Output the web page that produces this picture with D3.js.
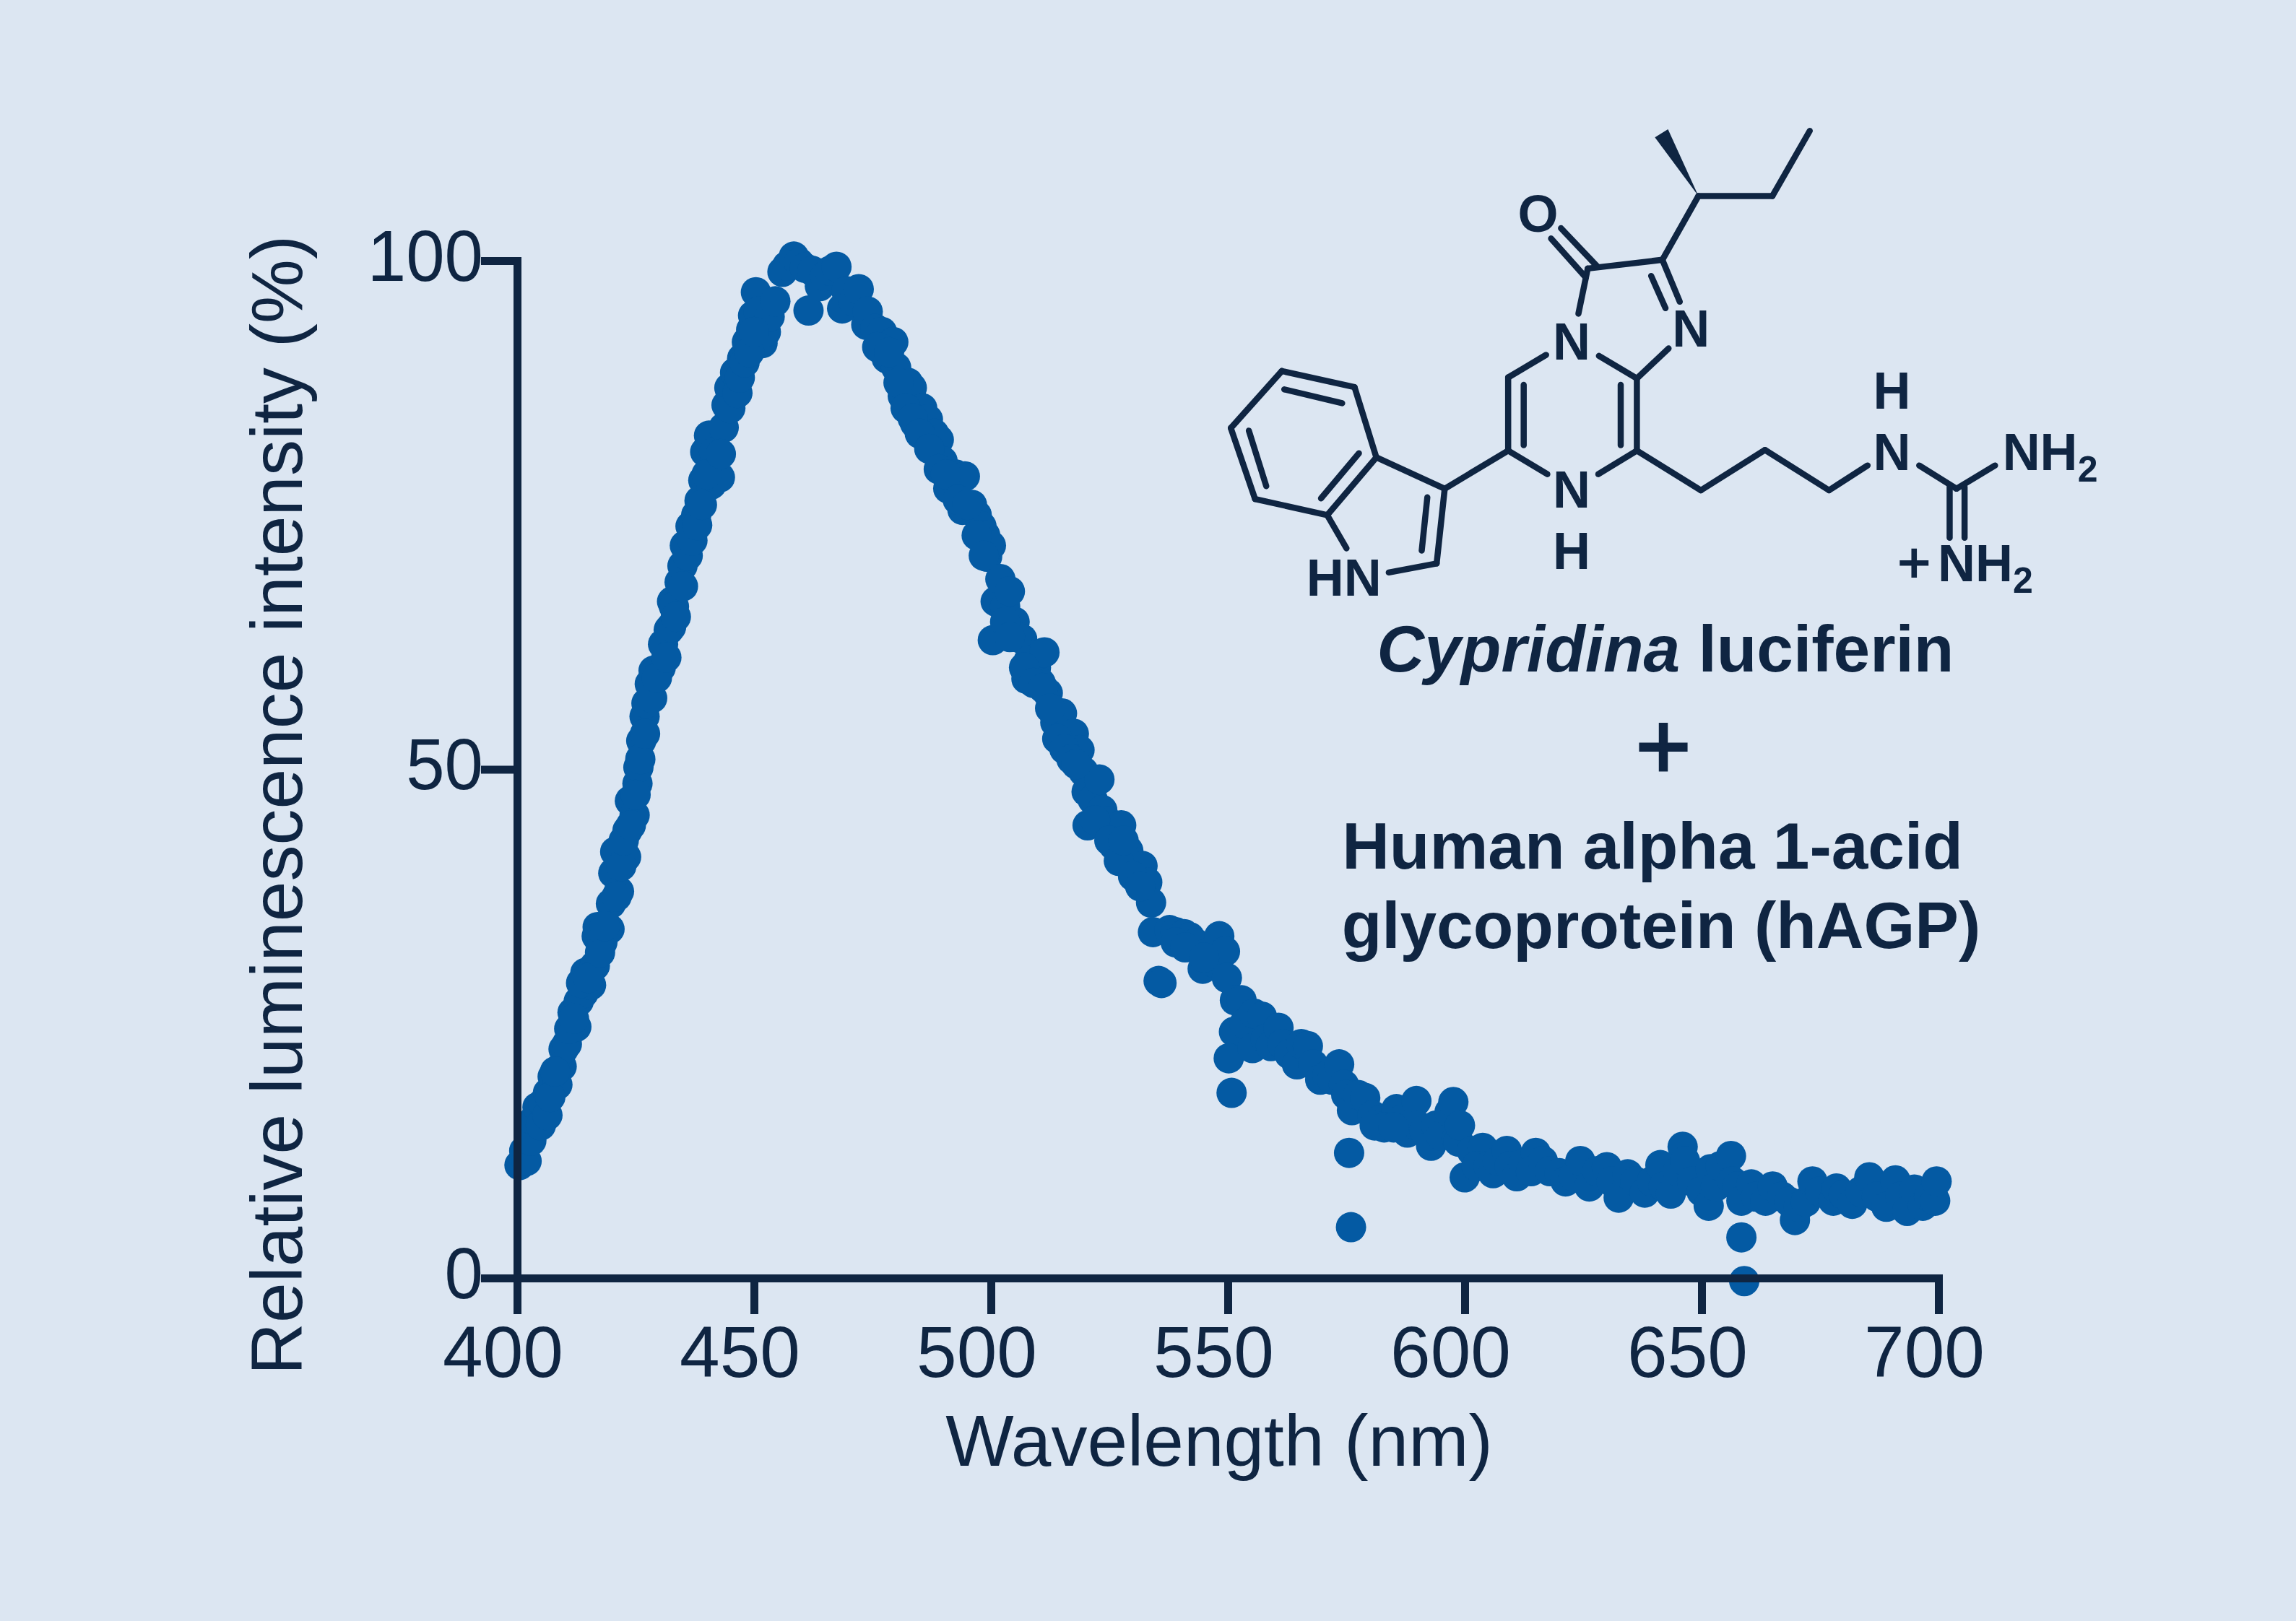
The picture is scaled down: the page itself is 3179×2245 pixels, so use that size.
<!DOCTYPE html>
<html><head><meta charset="utf-8">
<script src="https://cdnjs.cloudflare.com/ajax/libs/d3/7.8.5/d3.min.js"></script>
<style>html,body{margin:0;padding:0;background:#dce6f2}svg{display:block}</style></head><body>
<svg id="c" width="3179" height="2245"></svg>
<script>
const wavelengthNm=[
400.5,401.5,402,403,403.5,404.3,405,405.5,406.4,406.5,407.5,408.5,409.4,409.8,410.5,411.7,412.5,413,414,414.4,415.6,416.4,416.8,418,419.5,419.8,420.3,420.7,421.5,423,423.3,423.8,424.8,425.4,425.6,426.2,
426.9,427.3,428,428.8,430.3,430.8,432,432.7,433.1,434.3,434.9,435.4,436.6,437.8,438.5,439.3,439.7,440.5,441.6,441,442.8,443.6,444.2,444.8,446,447.5,448.5,449.4,449.8,450.4,451,451.8,452.5,453.3,454.5,456,457,458.4,
459.5,460.7,461.5,462.3,463.9,465,466,467.4,468.6,469.5,471,472.1,473.7,474,475.6,477,478,479.4,480,481.4,482.5,483.3,484,485.5,486.7,488,489,489.8,491,492.5,494.5,494,496,497,498,498.8,499.2,
500,500.4,501,502,503,504,505,506.6,505.5,507.5,508,509.5,511.3,510.5,512,513.6,515,516,517.5,518.7,519.5,520.2,520.4,521.5,522.9,523.5,524.5,526,527.5,529,530.7,532,533,533.8,534.2,535.4,536,
537.7,539,540.8,542,543.2,544.7,546,548.2,547,549.4,549.8,551.5,552.9,551.3,550.2,550.8,553.5,555.2,555.5,557.2,558,559.1,560.7,561.5,563,564.6,565.5,566.9,568,569.5,571,572,573.5,574.5,575,575.6,576,576.2,577.5,
579,580.5,582,584,585.6,586.5,587.9,589.8,590,591.5,592.9,594,595,596.8,597.6,598.3,598.7,599,600,601.5,603.8,602.5,605,606,607,608.9,609.5,611,612.5,615,614,616.5,618,620,621.3,623,624.4,
626.3,628,630,631,632.5,634.4,636,638,639.5,641.3,642,643.5,645,646,646.5,648,650,651.5,651.9,653,654,656.2,656.5,657.5,658.4,658.4,659,660.5,661.5,663.5,665,667,668.5,669.7,670.5,672,673.4,675,677.8,678.5,680,681.8,683.5,685.4,687,689,690.9,692,693.4,694.9,696.7,698,699.3,699.6,
539,541,545,581,583,585,
407,408,411,412,413.5,415,417.5,417,418.5,421,422,422.5,424,425,426,427,428.5,429.5,431.5,432.5,433.5,435,436,437,438,439,440,443,445,446.5,447,448,449,450,
476,478.5,480.5,482,483.5,485,487,489,490.5,493,495,497,498.5,503,504,507,509,511,512.5,514,515.5,517,518,522,525,527,528,530,531.5];
const intensityPct=[
11.1,12.5,11.5,13.5,15.5,16.8,15,17.2,16,18.2,19.8,19,20.8,22.5,23,26.1,24.7,27.2,28,30,28.8,30.7,33.6,33,34.3,36.8,39.8,41.9,38,41.4,44,46.9,45.5,48.6,50.2,52.8,
55.2,56.5,58.4,59.7,60,62.3,63.7,66.5,66,68.4,70,72,73.9,75,76.4,78.4,81.2,82.8,81.2,78,78.7,83.6,85.8,87.5,89,90.4,92,93.2,94.6,96.9,95,91.9,93,94.5,96,98.9,99.5,100.4,
99.8,99.3,95.1,99,97.5,98.5,99,99.4,95.3,97,96,97.2,93.7,95,93.3,93,90.4,92,89.5,86.7,88,87.5,84,85.5,84.4,83,82.4,80.3,77.6,79,78.8,75.5,76,75,73.9,73,70.9,
72,62.7,66.5,68.7,66,67.5,64.5,62.8,63,58.9,60.7,60,61.5,58.5,57.5,54.6,55.5,53,53.5,51.9,49.8,47.8,44.5,47,49,46,44.9,42.5,44.5,42,40.2,40.5,38.9,36.9,34,29.2,29,
34.2,34,33.8,33.5,32.9,30.4,32,33.6,31,32.1,29.5,27.3,27.3,24.2,21.6,18.2,25,22.6,26,25.7,23.5,22.8,24.6,23,22,21,23,22.8,21,19.5,19.9,19.5,21,19,18,12.3,5,16.5,18,
17.7,16,15.5,15.8,16.6,15.5,14.3,17.4,15,14.5,13,15,14,16.3,17.3,13.7,13.4,15,9.9,12.5,12.8,11,11,10.3,11.5,12.5,11,10,11.3,12.3,10.5,11.5,10.5,10.3,9.5,10,11.5,
9,10.5,10.9,9.5,7.9,10.2,9.5,8.4,9.5,11.1,9,8.3,10.5,12.9,11.5,9.5,8.5,7.1,10.7,9,11,12,9.5,9,7.6,4,-0.3,9.2,8,7.6,9,8,7.5,5.7,7,7.5,9.5,8.5,7.6,8.8,8.2,7.3,8.5,9.9,8,7,9.6,8,6.6,8.7,7.1,8,7.6,9.5,
33,32.5,31.5,15,14.8,14.8,
17.8,20.3,24.5,25.5,29,29.5,32,34.5,34.6,37.5,40.5,43,44.5,47.5,51,53.5,57,59,61,64,65,68,71,72.5,74,76,79,81,85.5,87,88.5,90,91,93,
91.5,91,88,85.5,84.5,83,81.5,79.5,79,76.5,76,73,71,64.5,63,60,58.5,58,56,53,52,51,50.5,45,43,41,43,39.5,38.5];
const xTicks=[400,450,500,550,600,650,700];
const yTicks=[0,50,100];
const xTitle="Wavelength (nm)", yTitle="Relative luminescence intensity (%)";

const INK="#0f2542",DOT="#045aa3",FF="'Liberation Sans',Arial,sans-serif";
const svg=d3.select("#c");
svg.append("rect").attr("width",3179).attr("height",2245).attr("fill","#dce6f2");
const x=d3.scaleLinear().domain([400,700]).range([716,2684]);
const y=d3.scaleLinear().domain([0,100]).range([1770,361]);

svg.append("g").selectAll("circle").data(wavelengthNm).join("circle")
 .attr("cx",d=>x(d)).attr("cy",(d,i)=>y(intensityPct[i])).attr("r",21).attr("fill",DOT);

const gx=svg.append("g").attr("transform","translate(0,1770)")
 .call(d3.axisBottom(x).tickValues(xTicks).tickSize(50).tickPadding(16).tickSizeOuter(0));
const gy=svg.append("g").attr("transform","translate(716,0)")
 .call(d3.axisLeft(y).tickValues(yTicks).tickSize(50).tickPadding(0).tickSizeOuter(0));
[gx,gy].forEach(g=>{
 g.selectAll("path").attr("stroke",INK).attr("stroke-width",11).attr("stroke-linecap","square");
 g.selectAll("line").attr("stroke",INK).attr("stroke-width",11);
 g.selectAll("text").attr("fill",INK).style("font-family",FF).style("font-size","100px");
});
gx.selectAll("text").attr("x",-20);
gy.selectAll("text").attr("dy","0.27em").attr("x",-49).attr("transform","scale(0.96,1)");
svg.append("text").attr("x",1688).attr("y",2030).attr("text-anchor","middle").attr("fill",INK)
 .style("font-family",FF).style("font-size","100px").text(xTitle);
svg.append("text").attr("transform","translate(418,1115) rotate(-90)").attr("text-anchor","middle").attr("fill",INK)
 .style("font-family",FF).style("font-size","100px").text(yTitle);

// structure drawn in a 1568-unit box mapped on to the page
const mx=d3.scaleLinear().domain([0,1568]).range([1600,2950]);
const my=d3.scaleLinear().domain([0,1568]).range([150,850]);
const bonds=[
[[207,872],[300,915]],[[150,1000],[178,1172]],[[327,1070],[266,1210]],[[437,1207],[428,1372]],
[[592,858],[592,1045]],[[748,858],[748,1045]],[[797,520],[820,620]],[[815,470],[843,600]],
[[825,745],[774,838]],[[695,497],[680,637]],[[628,765],[567,835]],[[713,768],[774,838]],
[[567,835],[567,1062]],[[774,838],[774,1062]],[[567,1062],[630,1135]],[[774,1062],[712,1135]],
[[567,1062],[465,1180]],[[465,1180],[355,1083]],[[465,1180],[452,1412]],[[452,1412],[375,1440]],
[[307,1365],[276,1262]],[[276,1262],[355,1083]],[[355,1083],[320,865]],[[320,865],[203,815]],
[[203,815],[121,992]],[[121,992],[160,1212]],[[160,1212],[276,1262]],
[[652,372],[710,490]],[[636,404],[692,525]],[[695,497],[815,470]],[[815,470],[873,272]],
[[873,272],[992,272]],[[992,272],[1052,70]],
[[774,1062],[877,1185]],[[877,1185],[980,1060]],[[980,1060],[1083,1185]],[[1083,1185],[1145,1108]],
[[1228,1108],[1288,1180]],[[1288,1180],[1350,1108]],[[1277,1175],[1277,1332]],[[1301,1175],[1301,1332]]];
const line=d3.line().x(d=>mx(d[0])).y(d=>my(d[1]));
svg.append("g").selectAll("path").data(bonds).join("path").attr("d",line).attr("fill","none")
 .attr("stroke",INK).attr("stroke-width",8.5).attr("stroke-linecap","round").attr("stroke-linejoin","round");
svg.append("path").attr("d",line([[824,65],[803,90],[873,272]])+"Z").attr("fill",INK);
const atoms=[["O",615,384,"middle"],["N",669,779,"middle"],["N",861,740,"middle"],["N",669,1238,"middle"],["H",669,1428,"middle"],
["HN",303,1512,"middle"],["H",1184,932,"middle"],["N",1184,1122,"middle"]];
const af=(sel)=>sel.attr("fill",INK).style("font-family",FF).style("font-weight","bold").style("font-size","72px");
svg.append("g").selectAll("text").data(atoms).join("text").call(af)
 .attr("x",d=>mx(d[1])).attr("y",d=>my(d[2])).attr("text-anchor",d=>d[3]).text(d=>d[0]);
function nh2(xz,yz){const t=svg.append("text").call(af).attr("x",mx(xz)).attr("y",my(yz));
 t.append("tspan").text("NH");t.append("tspan").attr("dy",16).style("font-size","50px").text("2");}
nh2(1362,1122);nh2(1258,1467);
svg.append("text").attr("fill",INK).attr("stroke",INK).attr("stroke-width",2).style("font-family",FF).style("font-size","78px")
 .attr("x",mx(1220)).attr("y",my(1469)).attr("text-anchor","middle").text("+");

const cap=(t,xp,yp,fs)=>svg.append("text").attr("x",xp).attr("y",yp).attr("text-anchor","middle").attr("fill",INK)
 .style("font-family",FF).style("font-weight","bold").style("font-size",fs+"px").text(t);
const c1=cap("",2306,930,91);
c1.append("tspan").style("font-style","italic").text("Cypridina");c1.append("tspan").text(" luciferin");
cap("+",2303,1079,132).style("font-weight","normal").attr("stroke",INK).attr("stroke-width",3);
cap("Human alpha 1-acid",2288,1203,91);
cap("glycoprotein (hAGP)",2300,1313,91);
</script></body></html>
